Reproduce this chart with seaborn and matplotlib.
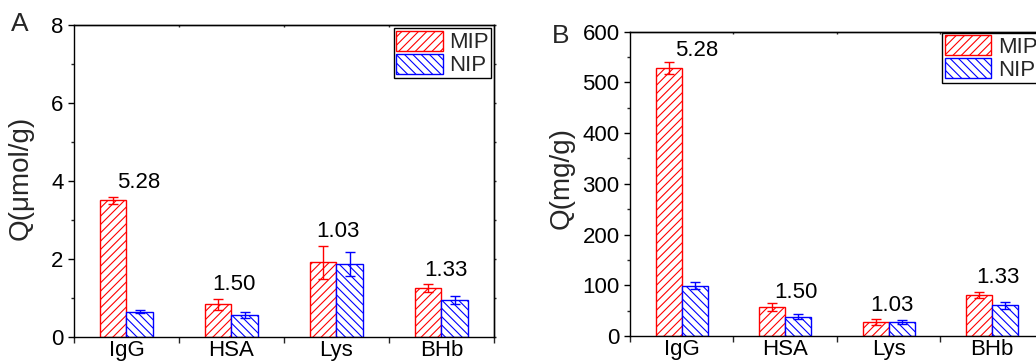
import numpy as np
import pandas as pd
import matplotlib
matplotlib.use("Agg")
import matplotlib.pyplot as plt
from matplotlib.patches import Patch
from matplotlib.ticker import FixedLocator, MultipleLocator
import seaborn as sns

# ---------------- data ----------------
categories = ["IgG", "HSA", "Lys", "BHb"]
series = ["MIP", "NIP"]

mip_A = [3.51, 0.84, 1.92, 1.25]
mip_A_err = [0.09, 0.14, 0.42, 0.10]
nip_A = [0.65, 0.56, 1.87, 0.95]
nip_A_err = [0.04, 0.08, 0.30, 0.11]

mip_B = [529, 56.6, 27.6, 81.5]
mip_B_err = [12, 8, 5, 6]
nip_B = [99, 38, 27, 61]
nip_B_err = [7, 5, 4, 7]

selectivity = ["5.28", "1.50", "1.03", "1.33"]

# ---------------- style ----------------
sns.set_theme(style="ticks")
plt.rcParams["font.family"] = ["Liberation Sans", "DejaVu Sans"]
plt.rcParams["hatch.linewidth"] = 0.8
plt.rcParams["axes.linewidth"] = 1.0

colors = {"MIP": "#FF0000", "NIP": "#0000FF"}
hatches = {"MIP": "////", "NIP": "\\\\\\\\"}
FS = 16

fig = plt.figure(figsize=(10.36, 3.63), dpi=100)
axA = fig.add_axes([0.0714, 0.0716, 0.4054, 0.8594])
axB = fig.add_axes([0.6081, 0.0744, 0.3996, 0.8383])


def draw_panel(ax, mip, mip_err, nip, nip_err, ymax, ymajor, yminor, ylabel,
               label_dx, label_off, leg_anchor, ylab_x, ylab_y):
    df = pd.DataFrame({
        "protein": categories * 2,
        "polymer": ["MIP"] * 4 + ["NIP"] * 4,
        "Q": list(mip) + list(nip),
    })
    errs = {"MIP": mip_err, "NIP": nip_err}
    sns.barplot(data=df, x="protein", y="Q", hue="polymer", order=categories,
                hue_order=series, palette=colors, width=0.5, errorbar=None,
                fill=False, legend=False, linewidth=1.0, ax=ax)
    tops = np.zeros(len(categories))
    for cont, s in zip(ax.containers, series):
        xs, ys = [], []
        for bar in cont:
            bar.set_hatch(hatches[s])
            bar.set_edgecolor(colors[s])
            bar.set_facecolor("white")
            bar.set_linewidth(1.0)
            xs.append(bar.get_x() + bar.get_width() / 2)
            ys.append(bar.get_height())
        ax.errorbar(xs, ys, yerr=errs[s], fmt="none", ecolor=colors[s],
                    elinewidth=1.0, capsize=3.5, capthick=1.0, zorder=3)
        tops = np.maximum(tops, np.array(ys) + np.array(errs[s]))

    for i, txt in enumerate(selectivity):
        ax.annotate(txt, xy=(i, tops[i]), xytext=(label_dx[i], label_off[i]),
                    textcoords="offset points", ha="center", va="center",
                    fontsize=FS, color="black")

    ax.set_xlim(-0.5, 3.5)
    ax.set_ylim(0, ymax)
    ax.set_xlabel("")
    ax.set_ylabel(ylabel, fontsize=20)
    ax.yaxis.set_label_coords(ylab_x, ylab_y)

    ax.yaxis.set_major_locator(MultipleLocator(ymajor))
    ax.yaxis.set_minor_locator(MultipleLocator(yminor))
    ax.xaxis.set_minor_locator(FixedLocator([-0.5, 0.5, 1.5, 2.5, 3.5]))
    ax.tick_params(axis="y", which="major", direction="out", length=4.5,
                   width=1.0, labelsize=FS, pad=3, colors="black")
    ax.tick_params(axis="y", which="minor", direction="out", length=2.5,
                   width=1.0)
    ax.tick_params(axis="x", which="major", length=0, labelsize=FS, pad=2,
                   colors="black")
    ax.tick_params(axis="x", which="minor", direction="out", length=4.5,
                   width=1.0)
    for sp in ax.spines.values():
        sp.set_visible(True)
        sp.set_color("black")
        sp.set_linewidth(1.0)

    # tiny ticks on top and right spines
    sec_y = ax.secondary_yaxis("right")
    sec_y.yaxis.set_major_locator(MultipleLocator(yminor))
    sec_y.tick_params(axis="y", direction="out", length=1.5, width=1.0,
                      labelright=False)
    sec_y.spines["right"].set_linewidth(1.0)
    sec_x = ax.secondary_xaxis("top")
    sec_x.xaxis.set_major_locator(FixedLocator([0.5, 1.5, 2.5]))
    sec_x.tick_params(axis="x", direction="in", length=1.5, width=1.0,
                      labeltop=False)

    handles = [Patch(facecolor="white", edgecolor=colors[s], hatch=hatches[s],
                     linewidth=1.0) for s in series]
    leg = ax.legend(handles, series, loc="upper right",
                    bbox_to_anchor=leg_anchor, borderaxespad=0, fontsize=FS,
                    handlelength=2.1, handleheight=1.0, labelspacing=0.02,
                    borderpad=0.1, handletextpad=0.3, frameon=True,
                    fancybox=False, framealpha=1, edgecolor="black")
    leg.get_frame().set_linewidth(1.0)


draw_panel(axA, mip_A, mip_A_err, nip_A, nip_A_err, 8, 2, 1, "Q(μmol/g)",
           label_dx=[9, 2, 1, 3], label_off=[10, 10, 10, 10],
           leg_anchor=(0.993, 0.989), ylab_x=-0.095, ylab_y=0.51)
draw_panel(axB, mip_B, mip_B_err, nip_B, nip_B_err, 600, 100, 50, "Q(mg/g)",
           label_dx=[11, 8, 2, 4], label_off=[8, 8, 10, 10],
           leg_anchor=(0.990, 0.995), ylab_x=-0.133, ylab_y=0.518)

fig.text(0.0193, 0.934, "A", fontsize=19, ha="center", va="center")
fig.text(0.5415, 0.902, "B", fontsize=19, ha="center", va="center")

fig.savefig("out.png", dpi=100)
